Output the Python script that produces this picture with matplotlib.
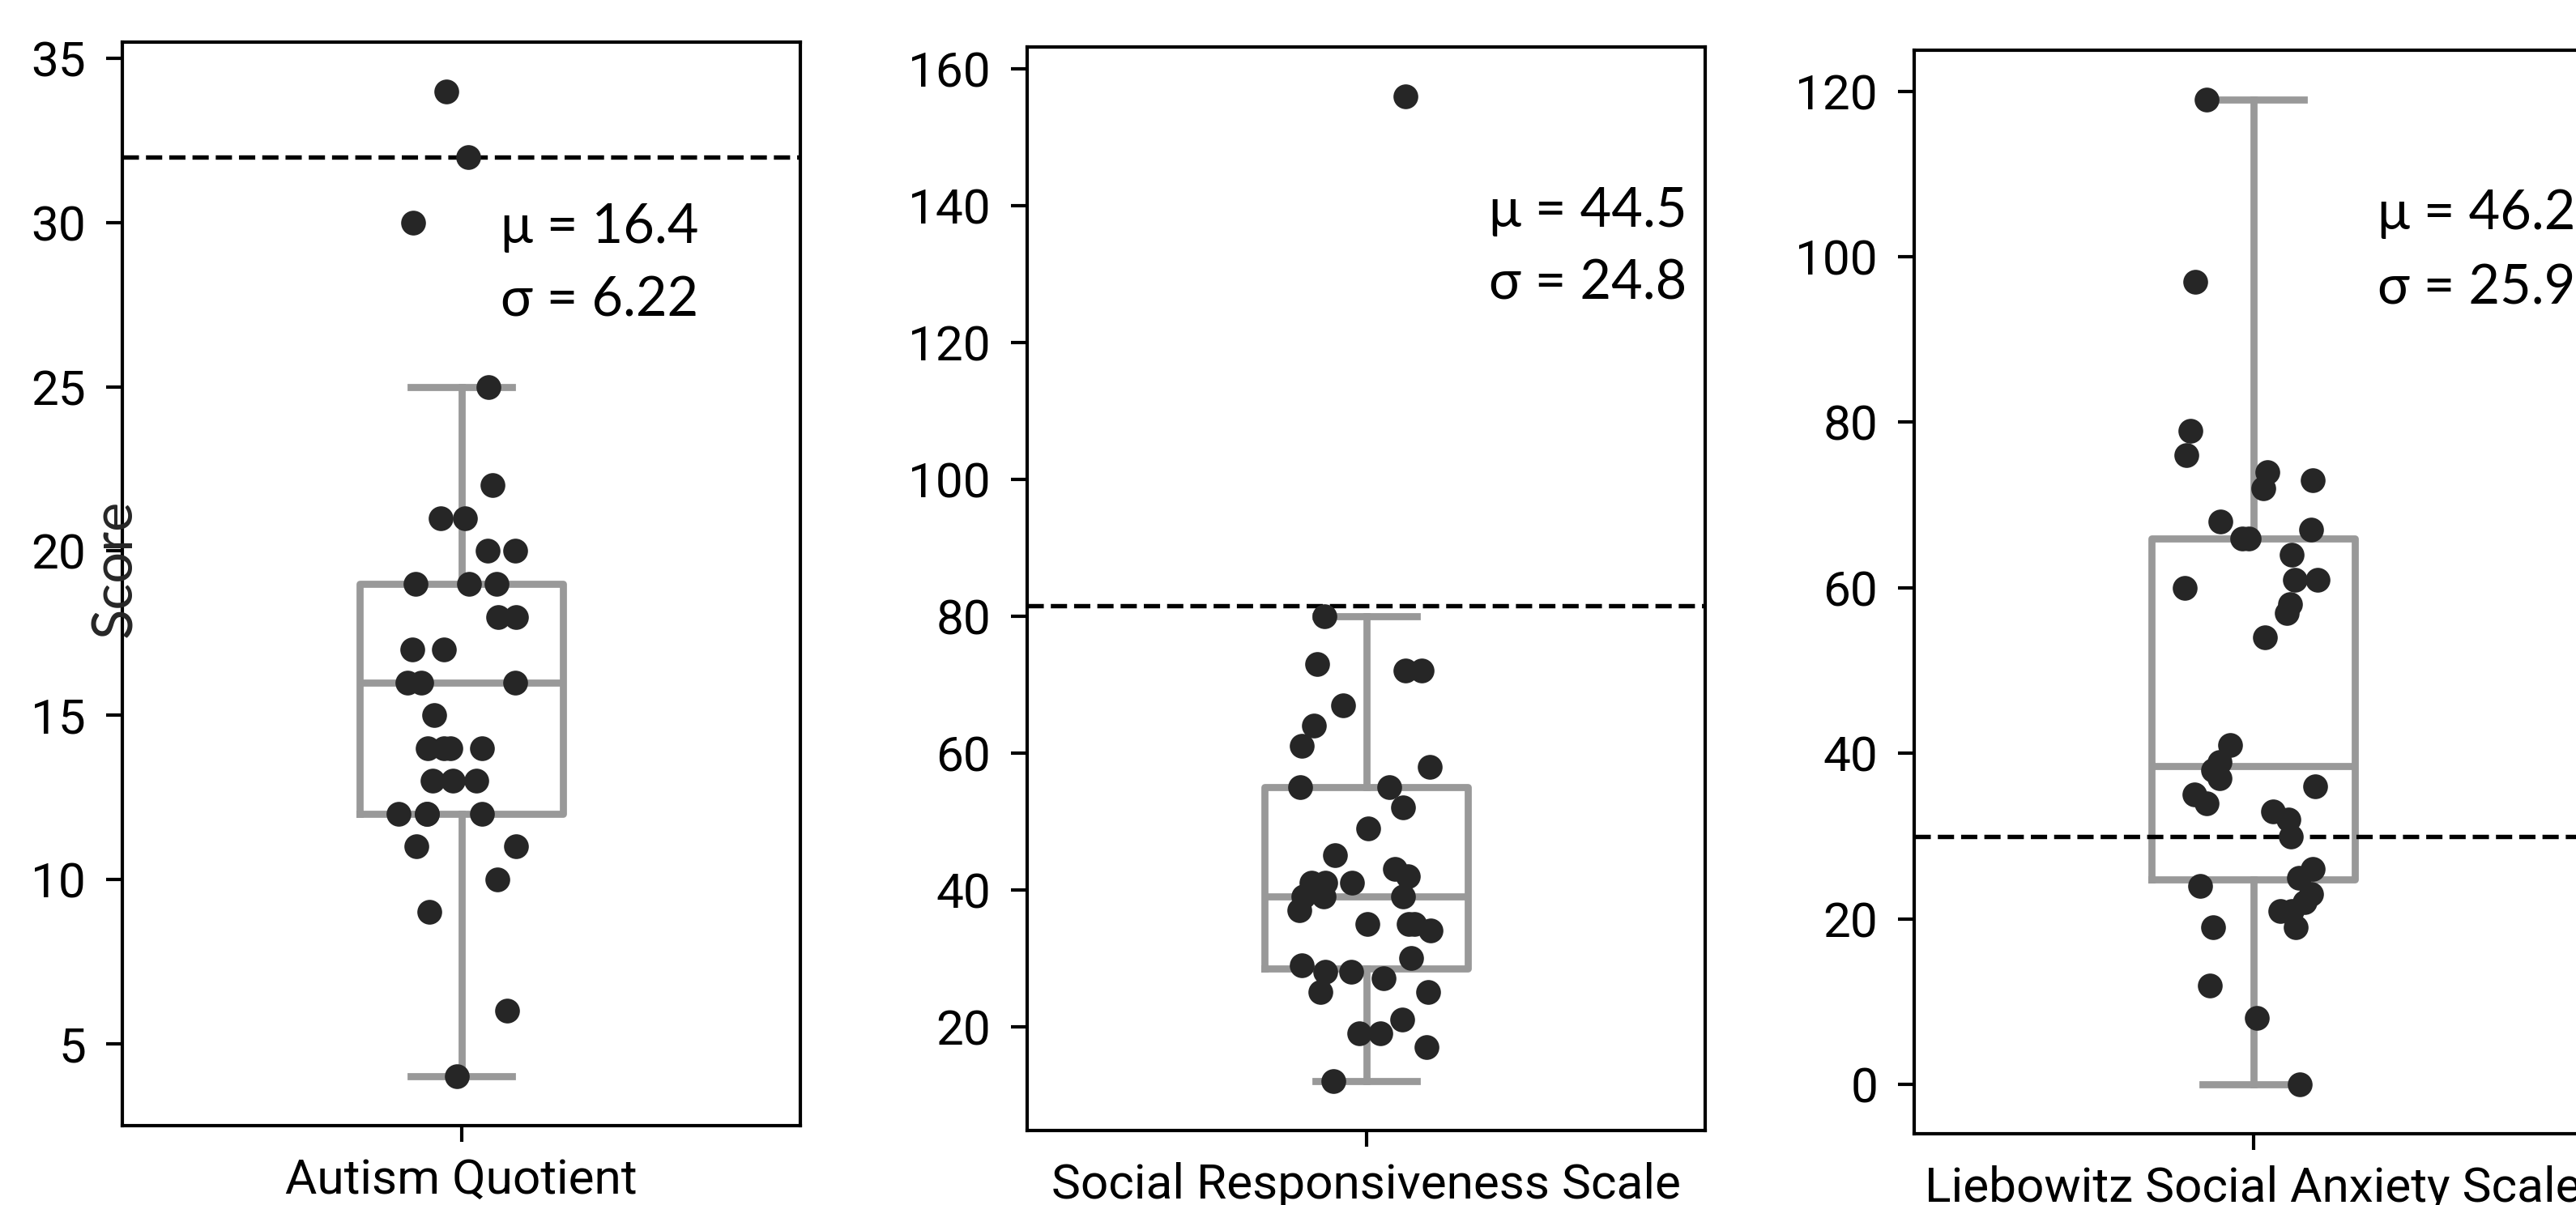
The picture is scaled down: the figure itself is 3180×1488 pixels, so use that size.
import matplotlib
matplotlib.use("Agg")
import matplotlib.pyplot as plt
from matplotlib.ticker import MultipleLocator

# ---------------- data ----------------
categories = ["Autism Quotient", "Social Responsiveness Scale", "Liebowitz Social Anxiety Scale"]

aq_scores = [34, 32, 30, 25, 22, 21, 21, 20, 20, 19, 19, 19, 18, 18, 17, 17, 16, 16, 16,
             15, 14, 14, 14, 14, 13, 13, 13, 12, 12, 12, 12, 11, 11, 10, 9, 6, 4]
aq_jitter = [-0.022, 0.010, -0.071, 0.040, 0.046, -0.031, 0.005, 0.039, 0.080, -0.068, 0.011,
             0.052, 0.054, 0.081, -0.072, -0.026, -0.080, -0.059, 0.080, -0.040, -0.049,
             -0.026, -0.016, 0.030, -0.042, -0.013, 0.022, -0.093, -0.051, -0.051, 0.030,
             -0.066, 0.081, 0.053, -0.047, 0.067, -0.006]

srs_scores = [156, 80, 73, 72, 72, 67, 64, 61, 58, 55, 55, 52, 49, 45, 43, 42, 41, 41, 41,
              39, 39, 39, 37, 35, 35, 35, 34, 30, 29, 28, 28, 27, 25, 25, 21, 19, 19, 17, 12]
srs_jitter = [0.058, -0.061, -0.072, 0.058, 0.082, -0.034, -0.077, -0.095, 0.094, -0.097,
              0.034, 0.054, 0.003, -0.046, 0.042, 0.061, -0.081, -0.060, -0.021, -0.093,
              -0.063, 0.054, -0.099, 0.002, 0.063, 0.071, 0.095, 0.066, -0.095, -0.060,
              -0.022, 0.026, -0.068, 0.091, 0.053, -0.010, 0.021, 0.089, -0.048]

lsas_scores = [119, 97, 79, 76, 74, 73, 72, 68, 67, 66, 66, 64, 61, 61, 60, 58, 57, 54, 41,
               39, 38, 37, 36, 35, 34, 33, 32, 30, 26, 25, 24, 23, 22, 21, 21, 19, 19, 12, 8, 0]
lsas_jitter = [-0.069, -0.085, -0.093, -0.098, 0.021, 0.088, 0.015, -0.048, 0.085, -0.016,
               -0.007, 0.057, 0.062, 0.095, -0.101, 0.054, 0.050, 0.017, -0.034, -0.050,
               -0.059, -0.049, 0.091, -0.087, -0.069, 0.029, 0.052, 0.055, 0.088, 0.068,
               -0.078, 0.085, 0.076, 0.040, 0.057, -0.059, 0.063, -0.064, 0.005, 0.069]

cutoffs = [32, 81.5, 30]
means = ["16.4", "44.5", "46.2"]
sds = ["6.22", "24.8", "25.9"]
tick_steps = [5, 20, 20]

scores = [aq_scores, srs_scores, lsas_scores]
jitters = [aq_jitter, srs_jitter, lsas_jitter]

# ---------------- layout / style ----------------
W, H = 3180, 1488
fig = plt.figure(figsize=(W / 300, H / 300), dpi=300)

ax_px = [(151, 1390), (1268, 1396), (2363, 1400)]  # left, bottom (px from top)
ax_w, ax_h = 837, 1338
text_pos = [(0.558, 0.815, 0.747), (0.681, 0.834, 0.767), (0.683, 0.835, 0.766)]

gray = "#999999"
dot = "#262626"
tick_font = "Roboto"
ann_font = ["Lato", "Open Sans", "DejaVu Sans"]

for i in range(3):
    l, btm = ax_px[i]
    ax = fig.add_axes([l / W, (H - btm) / H, ax_w / W, ax_h / H])
    vals = scores[i]
    ax.boxplot([vals], positions=[0], widths=0.3, showfliers=False, whis=1.5,
               boxprops=dict(color=gray, lw=2.1),
               whiskerprops=dict(color=gray, lw=2.1),
               capprops=dict(color=gray, lw=2.1),
               medianprops=dict(color=gray, lw=2.1), zorder=2)
    ax.axhline(cutoffs[i], color="black", ls="--", lw=1.3, zorder=2.5)
    ax.scatter(jitters[i], vals, s=54, color=dot, linewidths=0, zorder=3)

    lo, hi = min(vals), max(vals)
    pad = 0.05 * (hi - lo)
    ax.set_ylim(lo - pad, hi + pad)
    ax.set_xlim(-0.5, 0.5)
    ax.yaxis.set_major_locator(MultipleLocator(tick_steps[i]))
    ax.set_xticks([0])
    ax.set_xticklabels([categories[i]])
    for sp in ax.spines.values():
        sp.set_linewidth(1.0)
        sp.set_color("black")
    ax.tick_params(axis="both", length=4.8, width=1.0, labelsize=14.5, colors="black")
    ax.tick_params(axis="y", pad=6)
    ax.tick_params(axis="x", pad=4.5)
    for lab in ax.get_xticklabels() + ax.get_yticklabels():
        lab.set_fontfamily(tick_font)

    tx, ty1, ty2 = text_pos[i]
    ax.text(tx, ty1, "\u03bc = " + means[i], transform=ax.transAxes, fontsize=16,
            family=ann_font, va="baseline", ha="left", color="black")
    ax.text(tx, ty2, "\u03c3 = " + sds[i], transform=ax.transAxes, fontsize=16,
            family=ann_font, va="baseline", ha="left", color="black")

fig.text(143 / W, 1 - 702 / H, "Score", rotation=90, ha="center", va="center",
         fontsize=16.5, family=ann_font, color="#262626")

fig.savefig("out.png", dpi=300)
